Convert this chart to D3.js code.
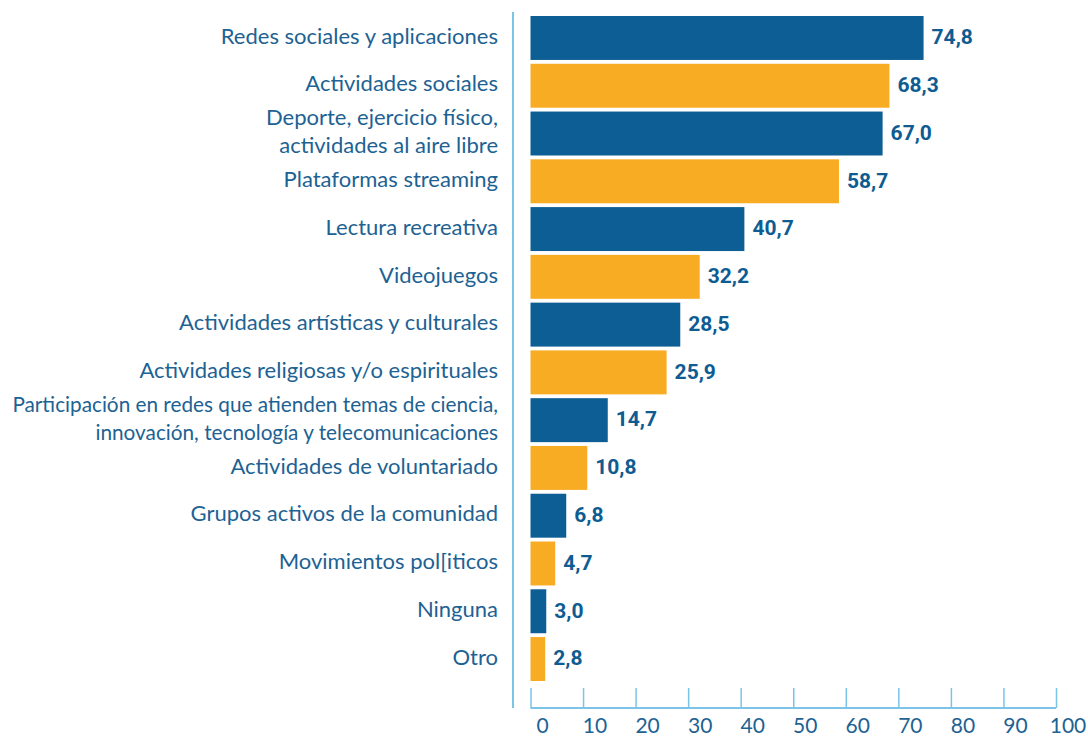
<!DOCTYPE html>
<html>
<head>
<meta charset="utf-8">
<script src="https://cdn.jsdelivr.net/npm/d3@7"></script>
<style>
  body { margin: 0; background: #fff; }
  .cat { font-family: Lato, "Open Sans", sans-serif; font-size: 22px; fill: #1d6293; }
  .val { font-family: Roboto, sans-serif; font-weight: bold; font-size: 21px; fill: #0e5c92; }
  .tick-label { font-family: Lato, "Open Sans", sans-serif; font-size: 21px; fill: #1d6293; }
</style>
</head>
<body>
<svg id="chart"></svg>
<script>
var categories = [
  "Redes sociales y aplicaciones",
  "Actividades sociales",
  "Deporte, ejercicio físico,\nactividades al aire libre",
  "Plataformas streaming",
  "Lectura recreativa",
  "Videojuegos",
  "Actividades artísticas y culturales",
  "Actividades religiosas y/o espirituales",
  "Participación en redes que atienden temas de ciencia,\ninnovación, tecnología y telecomunicaciones",
  "Actividades de voluntariado",
  "Grupos activos de la comunidad",
  "Movimientos pol[iticos",
  "Ninguna",
  "Otro"
];
var values = [74.8, 68.3, 67.0, 58.7, 40.7, 32.2, 28.5, 25.9, 14.7, 10.8, 6.8, 4.7, 3.0, 2.8];
var xTicks = [0, 10, 20, 30, 40, 50, 60, 70, 80, 90, 100];

var width = 1088, height = 736;
var svg = d3.select('#chart').attr('width', width).attr('height', height);

var x = d3.scaleLinear().domain([0, 100]).range([530.5, 1056]);
var y = d3.scaleBand().domain(categories).range([16, 681]).paddingInner(0.08);

var blue = '#0d5e94', orange = '#f8ac24', axisColor = '#7cc3e8';

// vertical line left of the bars
svg.append('line')
  .attr('x1', 513).attr('x2', 513)
  .attr('y1', 12).attr('y2', 708)
  .attr('stroke', axisColor).attr('stroke-width', 2);

// bars
svg.selectAll('rect.bar')
  .data(values)
  .enter()
  .append('rect')
  .attr('class', 'bar')
  .attr('x', x(0))
  .attr('y', function(d, i) { return y(categories[i]); })
  .attr('width', function(d) { return x(d) - x(0); })
  .attr('height', y.bandwidth())
  .attr('fill', function(d, i) { return i % 2 === 0 ? blue : orange; });

// value labels
var fmt = function(d) { return d3.format('.1f')(d).replace('.', ','); };
svg.selectAll('text.val')
  .data(values)
  .enter()
  .append('text')
  .attr('class', 'val')
  .attr('x', function(d) { return x(d) + 8; })
  .attr('y', function(d, i) { return y(categories[i]) + y.bandwidth() / 2; })
  .attr('dy', '0.3em')
  .text(fmt);

// category labels
var cat = svg.selectAll('text.cat')
  .data(categories)
  .enter()
  .append('text')
  .attr('class', 'cat')
  .attr('text-anchor', 'end')
  .attr('x', 498)
  .attr('y', function(d) { return y(d) + y.bandwidth() / 2 - 2; });

cat.each(function(d) {
  var lines = d.split('\n');
  var t = d3.select(this);
  lines.forEach(function(line, k) {
    t.append('tspan')
      .attr('x', 498)
      .attr('dy', k === 0 ? (0.35 - (lines.length - 1) * 0.64) + 'em' : '1.28em')
      .text(line);
  });
  // the longest label has to fit between the page edge and the axis
  var maxW = 486;
  var w = 0;
  t.selectAll('tspan').each(function() { w = Math.max(w, this.getComputedTextLength()); });
  if (w > maxW) {
    var fs = 22 * maxW / w;
    t.style('font-size', fs + 'px');
    t.selectAll('tspan').each(function(_, k) {
      d3.select(this).attr('dy', k === 0 ? ((0.35 - (lines.length - 1) * 0.64) * 22 / fs) + 'em' : (1.28 * 22 / fs) + 'em');
    });
  }
});

// x axis
var xAxis = d3.axisTop(x).tickValues(xTicks).tickSize(20).tickFormat('');
var gx = svg.append('g')
  .attr('transform', 'translate(0,708)')
  .call(xAxis);
gx.select('.domain').attr('stroke', axisColor).attr('stroke-width', 2)
  .attr('d', 'M' + x(0) + ',0H' + x(100));
gx.selectAll('.tick line').attr('stroke', axisColor).attr('stroke-width', 1.5);

svg.selectAll('text.tick-label')
  .data(xTicks)
  .enter()
  .append('text')
  .attr('class', 'tick-label')
  .attr('text-anchor', 'middle')
  .attr('x', function(d) { return x(d) + 12; })
  .attr('y', 733)
  .text(function(d) { return d; });
</script>
</body>
</html>
